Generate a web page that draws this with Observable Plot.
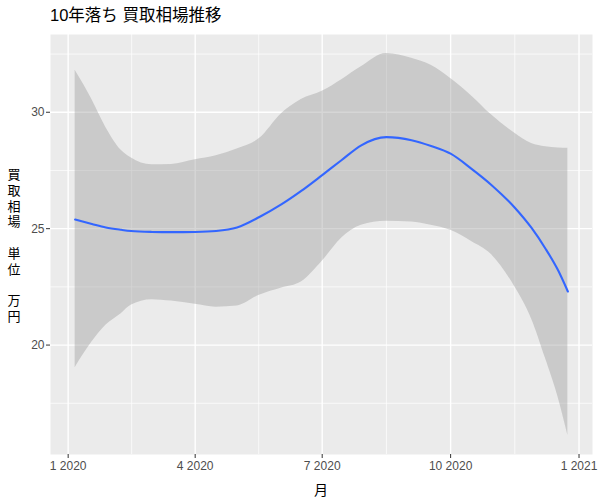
<!DOCTYPE html>
<html><head><meta charset="utf-8">
<script src="https://cdn.jsdelivr.net/npm/d3@7"></script>
<script src="https://cdn.jsdelivr.net/npm/@observablehq/plot@0.6"></script>
<style>
body{margin:0;background:#fff;}
#wrap{position:relative;width:600px;height:500px;font-family:"Liberation Sans",Arial,"Noto Sans CJK JP",sans-serif;}
#wrap svg{position:absolute;left:0;top:0;}
.lab{position:absolute;color:#000;white-space:pre;}
#title{left:50px;top:6px;font-size:16.5px;line-height:18px;}
#ylab{left:0;width:28px;top:167px;font-size:13px;line-height:15.8px;text-align:center;}
#xlab{left:301px;width:40px;top:483px;font-size:14px;line-height:15px;text-align:center;}
</style></head><body>
<div id="wrap"></div>
<script>
const title = "10年落ち 買取相場推移";
const yLabel = "買取相場 単位 万円";
const xLabel = "月";

const dates = ["2020-01-06","2020-01-18","2020-01-28","2020-02-08","2020-02-15","2020-03-01","2020-03-15","2020-04-01","2020-04-16","2020-05-01","2020-05-17","2020-06-02","2020-06-16","2020-07-01","2020-07-15","2020-07-29","2020-08-16","2020-09-03","2020-09-17","2020-10-01","2020-10-16","2020-10-30","2020-11-16","2020-11-28","2020-12-08","2020-12-17","2020-12-24"];
const fit   = [25.39,25.20,25.05,24.95,24.90,24.86,24.85,24.86,24.90,25.05,25.50,26.05,26.62,27.30,27.95,28.58,28.93,28.80,28.55,28.22,27.57,26.89,25.90,25.03,24.14,23.21,22.30];
const upper = [31.80,30.55,29.35,28.37,28.05,27.75,27.76,27.96,28.13,28.42,28.87,29.95,30.55,30.90,31.40,31.95,32.52,32.32,32.02,31.45,30.70,29.90,29.10,28.66,28.52,28.47,28.45];
const lower = [19.03,20.13,20.85,21.35,21.71,21.95,21.89,21.75,21.63,21.68,22.14,22.45,22.71,23.60,24.60,25.15,25.32,25.29,25.15,24.93,24.45,23.90,22.50,21.12,19.42,17.76,16.12];

const yTicks = [20, 25, 30];
const yMinor = [17.5, 22.5, 27.5, 32.5];
const xTicks = ["2020-01-01","2020-04-01","2020-07-01","2020-10-01","2021-01-01"];

const data = dates.map((d, i) => ({date: new Date(d), fit: fit[i], lo: lower[i], hi: upper[i]}));
const xTickDates = xTicks.map(d => new Date(d));
const xMinorDates = d3.pairs(xTickDates).map(([a, b]) => new Date((+a + +b) / 2));

const expand = ([a, b]) => { const p = (b - a) * 0.05; return [a - p, b + p]; };
const xd = expand(d3.extent(data, d => +d.date));
const yd = expand([d3.min(lower), d3.max(upper)]);

const chart = Plot.plot({
  width: 600, height: 500,
  marginLeft: 50, marginRight: 8, marginTop: 34, marginBottom: 46,
  style: {fontFamily: '"Liberation Sans", Arial, sans-serif', background: "transparent"},
  x: {type: "utc", domain: [new Date(xd[0]), new Date(xd[1])]},
  y: {domain: yd},
  marks: [
    Plot.frame({fill: "#EBEBEB", stroke: null}),
    Plot.ruleY(yMinor, {stroke: "#FFFFFF", strokeWidth: 0.7}),
    Plot.ruleX(xMinorDates, {stroke: "#FFFFFF", strokeWidth: 0.7}),
    Plot.ruleY(yTicks, {stroke: "#FFFFFF", strokeWidth: 1.4}),
    Plot.ruleX(xTickDates, {stroke: "#FFFFFF", strokeWidth: 1.4}),
    Plot.areaY(data, {x: "date", y1: "lo", y2: "hi", fill: "#999999", fillOpacity: 0.4, curve: "monotone-x"}),
    Plot.lineY(data, {x: "date", y: "fit", stroke: "#3366FF", strokeWidth: 2.1, curve: "monotone-x"}),
    Plot.axisY({ticks: yTicks, tickSize: 4, tickPadding: 2, label: null, stroke: "#333333", fill: "#4D4D4D", fontSize: 12}),
    Plot.axisX({ticks: xTickDates, tickSize: 4, tickPadding: 3, label: null, stroke: "#333333", fill: "#4D4D4D", fontSize: 12,
      tickFormat: d => `${d.getUTCMonth() + 1} ${d.getUTCFullYear()}`})
  ]
});

const wrap = document.getElementById("wrap");
wrap.appendChild(chart);
const mk = (id, text) => { const el = document.createElement("div"); el.id = id; el.className = "lab"; el.textContent = text; wrap.appendChild(el); };
mk("title", title);
mk("ylab", Array.from(yLabel).map(c => c === " " ? "" : c).join("\n"));
mk("xlab", xLabel);
</script>
</body></html>
